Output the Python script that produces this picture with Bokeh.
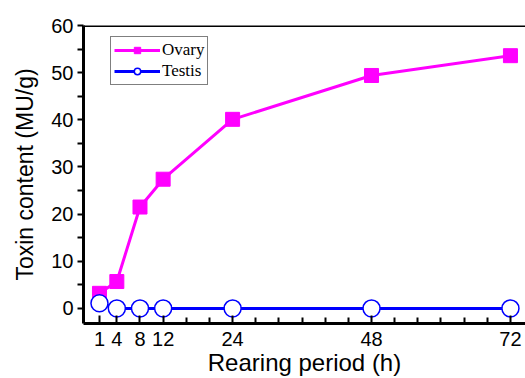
from bokeh.plotting import figure
from bokeh.models import FixedTicker, Range1d, Span, Legend, LegendItem
from bokeh.embed import file_html
from bokeh.resources import INLINE

hours = [1, 4, 8, 12, 24, 48, 72]
ovary = [3.2, 5.7, 21.5, 27.4, 40.1, 49.4, 53.6]
testis = [1.1, 0.0, 0.0, 0.0, 0.0, 0.0, 0.0]
x_ticks = [1, 4, 8, 12, 24, 48, 72]
x_minor = [16, 20, 28, 32, 36, 40, 44, 52, 56, 60, 64, 68]
y_ticks = [0, 10, 20, 30, 40, 50, 60]
y_minor = [5, 15, 25, 35, 45, 55]

p = figure(width=525, height=378, output_backend="svg", toolbar_location=None,
           x_range=Range1d(-1.76, 74.6), y_range=Range1d(-3.2, 60),
           min_border_left=83, min_border_right=0, min_border_top=25, min_border_bottom=0)

r1 = p.line(hours, ovary, line_color="#FF00FF", line_width=3)
s1 = p.scatter(hours, ovary, marker="square", size=14, fill_color="#FF00FF", line_color="#FF00FF")
r2 = p.line(hours, testis, line_color="#0000FF", line_width=3)
s2 = p.scatter(hours, testis, marker="circle", size=17, fill_color="white",
               line_color="#0000FF", line_width=1.5)

legend = Legend(items=[LegendItem(label="Ovary", renderers=[r1, s1]),
                       LegendItem(label="Testis", renderers=[r2, s2])],
                location=(27, 238))
legend.border_line_color = "black"
legend.border_line_width = 1
legend.label_text_font = "Liberation Serif"
legend.label_text_font_size = "17px"
legend.label_text_color = "black"
legend.glyph_width = 46
legend.glyph_height = 16
legend.label_height = 16
legend.spacing = 1
legend.padding = 3
legend.margin = 0
legend.label_standoff = 2
p.add_layout(legend)

p.grid.visible = False
p.outline_line_color = None
p.add_layout(Span(location=60, dimension="width", line_color="black", line_width=3))

for ax in (p.xaxis[0], p.yaxis[0]):
    ax.axis_line_width = 3
    ax.major_tick_line_width = 2
    ax.minor_tick_line_width = 2
    ax.major_label_text_font = "Liberation Sans"
    ax.major_label_text_font_size = "20px"
    ax.major_label_text_color = "black"
    ax.axis_label_text_font = "Liberation Sans"
    ax.axis_label_text_font_style = "normal"
    ax.axis_label_text_color = "black"

p.xaxis.ticker = FixedTicker(ticks=x_ticks, minor_ticks=x_minor)
p.xaxis.major_tick_in = 8
p.xaxis.major_tick_out = 0
p.xaxis.minor_tick_in = 6
p.xaxis.minor_tick_out = 0
p.xaxis.major_label_standoff = 8
p.xaxis.axis_label = "Rearing period (h)"
p.xaxis.axis_label_text_font_size = "24px"
p.xaxis.axis_label_standoff = 0

p.yaxis.ticker = FixedTicker(ticks=y_ticks, minor_ticks=y_minor)
p.yaxis.major_tick_in = 0
p.yaxis.major_tick_out = 6
p.yaxis.minor_tick_in = 0
p.yaxis.minor_tick_out = 6
p.yaxis.major_label_standoff = 4
p.yaxis.axis_label = "Toxin content (MU/g)"
p.yaxis.axis_label_text_font_size = "23px"
p.yaxis.axis_label_standoff = 10

open("out.html", "w").write(file_html(p, INLINE))
